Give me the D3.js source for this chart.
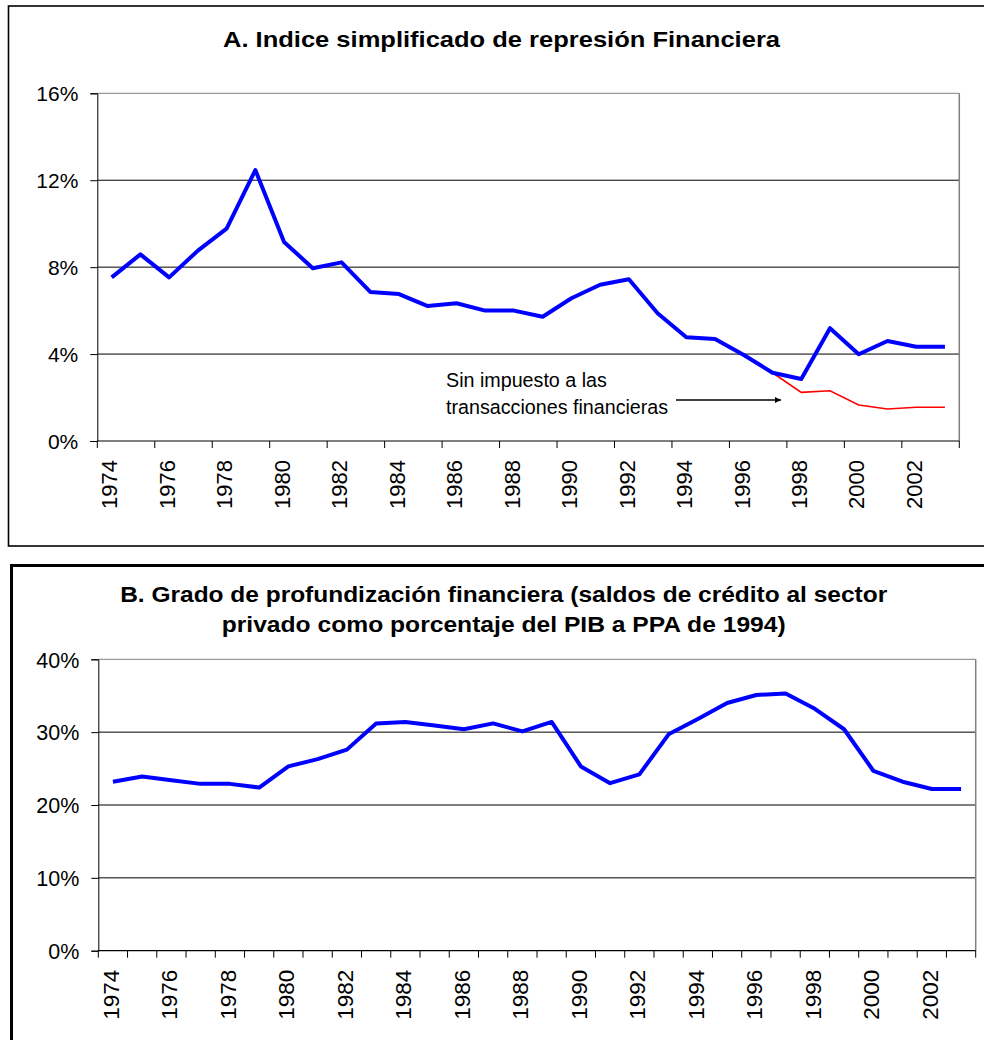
<!DOCTYPE html>
<html>
<head>
<meta charset="utf-8">
<script src="https://cdn.jsdelivr.net/npm/d3@7"></script>
<style>
  html, body { margin: 0; padding: 0; background: #fff; }
  svg { display: block; }
  text { font-family: "Liberation Sans", Arial, sans-serif; fill: #000; }
</style>
</head>
<body>
<svg id="chart" width="984" height="1040"></svg>
<script>
// ---------- Data ----------
const years = d3.range(1974, 2004);
const labelYears = d3.range(1974, 2004, 2);

// Panel A: simplified financial repression index (%)
const repressionIndex = [7.53, 8.59, 7.53, 8.76, 9.77, 12.47, 9.16, 7.95, 8.22, 6.86,
                         6.76, 6.21, 6.34, 6.00, 6.00, 5.72, 6.57, 7.19, 7.44, 5.88,
                         4.77, 4.69, 3.96, 3.14, 2.85, 5.19, 3.99, 4.60, 4.34, 4.34];
// Panel A: without financial transactions tax (%)
const withoutTax = [null, null, null, null, null, null, null, null, null, null,
                    null, null, null, null, null, null, null, null, null, null,
                    null, null, null, 3.14, 2.24, 2.31, 1.66, 1.47, 1.55, 1.55];
const yTicksA = [0, 4, 8, 12, 16];

// Panel B: private credit as % of GDP (PPP 1994)
const creditDepth = [23.2, 23.9, 23.4, 22.9, 22.9, 22.4, 25.3, 26.3, 27.6, 31.2,
                     31.4, 30.9, 30.4, 31.2, 30.1, 31.4, 25.3, 23.0, 24.2, 29.7,
                     31.8, 34.0, 35.1, 35.3, 33.2, 30.4, 24.7, 23.2, 22.2, 22.2];
const yTicksB = [0, 10, 20, 30, 40];

const titleA = "A. Indice simplificado de represión Financiera";
const titleB = ["B. Grado de profundización financiera (saldos de crédito al sector",
                "privado como porcentaje del PIB a PPA de 1994)"];
const noteLines = ["Sin impuesto a las", "transacciones financieras"];

// ---------- Drawing ----------
const svg = d3.select("#chart");
svg.append("rect").attr("width", 984).attr("height", 1040).attr("fill", "#fff");

// outer frames
svg.append("rect").attr("x", 8.5).attr("y", 6).attr("width", 1000).attr("height", 540)
  .attr("fill", "none").attr("stroke", "#000").attr("stroke-width", 1.6);
svg.append("rect").attr("x", 11.5).attr("y", 565.5).attr("width", 1000).attr("height", 600)
  .attr("fill", "none").attr("stroke", "#000").attr("stroke-width", 3);

function panel(cfg) {
  const g = svg.append("g");
  const x = d3.scaleBand().domain(years).range([cfg.left, cfg.right]).padding(0);
  const y = d3.scaleLinear().domain([0, cfg.ymax]).range([cfg.bottom, cfg.top]);

  // gridlines
  g.selectAll(".grid").data(cfg.yTicks.filter(t => t > 0)).join("line")
    .attr("x1", cfg.left).attr("x2", cfg.right)
    .attr("y1", d => y(d)).attr("y2", d => y(d))
    .attr("stroke", d => d === cfg.ymax ? "#808080" : "#000").attr("stroke-width", 1);
  // right border
  g.append("line").attr("x1", cfg.right).attr("x2", cfg.right)
    .attr("y1", cfg.top).attr("y2", cfg.bottom).attr("stroke", "#808080").attr("stroke-width", 1.5);

  // y axis
  const yAxis = d3.axisLeft(y).tickValues(cfg.yTicks).tickSize(7).tickPadding(12)
    .tickFormat(d => d + "%");
  const ya = g.append("g").attr("transform", `translate(${cfg.left},0)`).call(yAxis);
  ya.select(".domain").attr("stroke", "#000");
  ya.selectAll(".tick line").attr("stroke", "#000");
  ya.selectAll(".tick text").attr("font-size", cfg.yfs).attr("font-family", "Liberation Sans, Arial, sans-serif")
    .attr("fill", "#000").attr("dy", "0.36em");

  // x axis line
  g.append("line").attr("x1", cfg.left - 0.5).attr("x2", cfg.right)
    .attr("y1", cfg.bottom).attr("y2", cfg.bottom).attr("stroke", "#000").attr("stroke-width", 1.2);
  // x tick marks at category boundaries
  const tickPos = years.filter((d, i) => i % cfg.tickEvery === 0).map(d => x(d)).concat([cfg.right]);
  g.selectAll(".xt").data(tickPos).join("line")
    .attr("x1", d => d).attr("x2", d => d)
    .attr("y1", cfg.bottom).attr("y2", cfg.bottom + 7)
    .attr("stroke", "#000").attr("stroke-width", 1);
  // x labels
  g.selectAll(".xl").data(labelYears).join("text")
    .attr("transform", d => `translate(${x(d) + x.bandwidth() / 2 - 2},${cfg.bottom + 19}) rotate(-90)`)
    .attr("text-anchor", "end").attr("dy", "0.35em")
    .attr("font-size", cfg.xfs).text(d => d);

  return { x, y, g };
}

// Panel A
const A = panel({ left: 97.3, right: 959.3, top: 93.3, bottom: 441, ymax: 16,
                  yTicks: yTicksA, tickEvery: 2, yfs: 21, xfs: 22 });
svg.append("text").attr("x", 501.5).attr("y", 47).attr("text-anchor", "middle")
  .attr("font-size", 21.5).attr("font-weight", "bold")
  .attr("textLength", 557).attr("lengthAdjust", "spacingAndGlyphs").text(titleA);

const lineA = d3.line().defined(d => d.v !== null)
  .x(d => A.x(d.year) + A.x.bandwidth() / 2).y(d => A.y(d.v));
A.g.append("path").datum(years.map((yr, i) => ({ year: yr, v: withoutTax[i] })))
  .attr("d", lineA).attr("fill", "none").attr("stroke", "#FF0000").attr("stroke-width", 1.6);
A.g.append("path").datum(years.map((yr, i) => ({ year: yr, v: repressionIndex[i] })))
  .attr("d", lineA).attr("fill", "none").attr("stroke", "#0000FF").attr("stroke-width", 4)
  .attr("stroke-linejoin", "round");

// annotation
svg.selectAll(".note").data(noteLines).join("text")
  .attr("x", 446).attr("y", (d, i) => 387 + i * 27)
  .attr("font-size", 19.7).text(d => d);
svg.append("defs").append("marker").attr("id", "arr").attr("viewBox", "0 0 10 10")
  .attr("refX", 10).attr("refY", 5).attr("markerWidth", 6).attr("markerHeight", 6)
  .attr("markerUnits", "userSpaceOnUse").attr("orient", "auto")
  .append("path").attr("d", "M0,0 L10,5 L0,10 Z").attr("fill", "#000");
svg.append("line").attr("x1", 676).attr("x2", 781).attr("y1", 400).attr("y2", 400)
  .attr("stroke", "#000").attr("stroke-width", 1.3).attr("marker-end", "url(#arr)");

// Panel B
const B = panel({ left: 98.3, right: 975.7, top: 659.3, bottom: 950.7, ymax: 40,
                  yTicks: yTicksB, tickEvery: 1, yfs: 21.5, xfs: 22.5 });
const titleBLengths = [767, 564];
svg.selectAll(".tb").data(titleB).join("text")
  .attr("x", 503.7).attr("y", (d, i) => 602 + i * 30).attr("text-anchor", "middle")
  .attr("font-size", 21.5).attr("font-weight", "bold")
  .attr("textLength", (d, i) => titleBLengths[i]).attr("lengthAdjust", "spacingAndGlyphs")
  .text(d => d);

const lineB = d3.line().x(d => B.x(d.year) + B.x.bandwidth() / 2).y(d => B.y(d.v));
B.g.append("path").datum(years.map((yr, i) => ({ year: yr, v: creditDepth[i] })))
  .attr("d", lineB).attr("fill", "none").attr("stroke", "#0000FF").attr("stroke-width", 4)
  .attr("stroke-linejoin", "round");
</script>
</body>
</html>
